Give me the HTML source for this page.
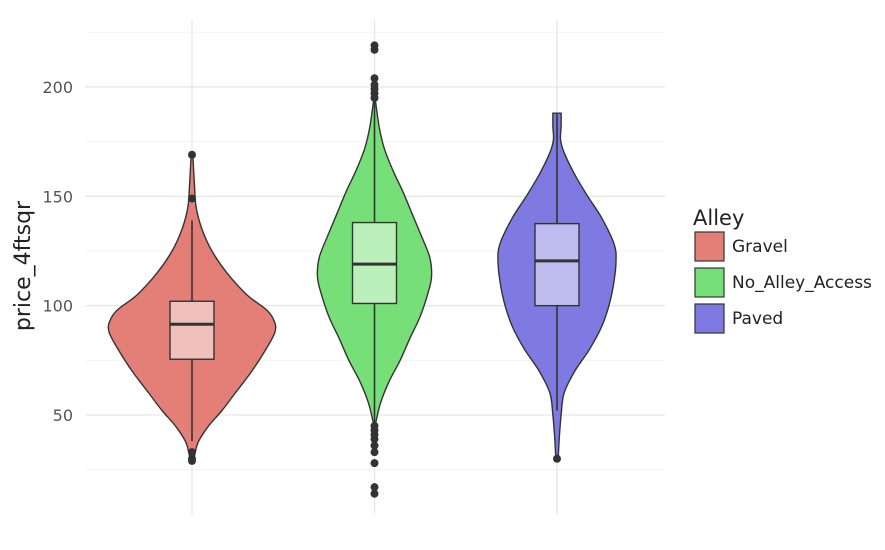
<!DOCTYPE html>
<html><head><meta charset="utf-8"><style>
body{margin:0;background:#fff;font-family:"DejaVu Sans","Liberation Sans",sans-serif}
</style></head><body>
<svg id="c" width="885" height="546" xmlns="http://www.w3.org/2000/svg" font-family="DejaVu Sans, Liberation Sans, sans-serif"></svg>
<script>
const categories=["Gravel","No_Alley_Access","Paved"];
const colors=["#e47f78","#77df77","#7f79e2"];
const boxColors=["#f0c0bd","#bbf0bb","#bfbcf0"];
const yTicks=[50,100,150,200];
const minorTicks=[25,75,125,175,225];
const densGravel=[[29,0.02],[33,0.04],[38,0.08],[45,0.2],[52,0.36],[60,0.52],[70,0.72],[80,0.89],[88,1.0],[93,0.99],[98,0.9],[105,0.66],[115,0.42],[125,0.24],[135,0.12],[145,0.05],[155,0.03],[169,0.01]];
const densNoAlley=[[45,0.01],[55,0.1],[65,0.25],[75,0.45],[85,0.62],[95,0.8],[105,0.93],[113,1.0],[122,0.97],[132,0.82],[142,0.66],[152,0.5],[162,0.32],[172,0.17],[182,0.08],[195,0.01]];
const densPaved=[[30,0.02],[40,0.04],[50,0.07],[60,0.12],[70,0.3],[80,0.55],[90,0.75],[100,0.88],[110,0.96],[120,1.0],[128,0.97],[140,0.76],[150,0.52],[160,0.3],[170,0.12],[176,0.06],[182,0.07],[188,0.07]];
const densities=[densGravel,densNoAlley,densPaved];
const maxHalf=[83,57,59];
const q1=[75.5,101,100],med=[91.5,119,120.5],q3=[102,138,137.5];
const whLo=[38,45,52],whHi=[139,195,188];
const outGravel=[29,30,33,149,169];
const outNoAlley=[14,17,28,33,36,39,41,43,45,195,197,199,201,204,217,219];
const outPaved=[30];
const outliers=[outGravel,outNoAlley,outPaved];

const svg=document.getElementById('c');
const NS="http://www.w3.org/2000/svg";
const X0=85,X1=665;
const xPos=i=>192+i*182.5;
const y=v=>415-(v-50)*2.187;
function mk(t,a,p){const e=document.createElementNS(NS,t);for(const k in a)e.setAttribute(k,a[k]);(p||svg).appendChild(e);return e;}

minorTicks.forEach(v=>{const l=mk('line',{x1:X0,x2:X1,y1:y(v),y2:y(v),stroke:'#f3f3f3','stroke-width':1});

});
yTicks.forEach(v=>{const l=mk('line',{x1:X0,x2:X1,y1:y(v),y2:y(v),stroke:'#e6e6e6','stroke-width':1.3});


const t=mk('text',{x:73,y:y(v)+6,'text-anchor':'end','font-size':16,fill:'#555'});t.textContent=v;

});
categories.forEach((c,i)=>{const l=mk('line',{x1:xPos(i),x2:xPos(i),y1:20,y2:515,stroke:'#e6e6e6','stroke-width':1.3});

});

function smooth(pts){let d='';for(let i=0;i<pts.length-1;i++){const p0=pts[Math.max(0,i-1)],p1=pts[i],p2=pts[i+1],p3=pts[Math.min(pts.length-1,i+2)];
const c1=[p1[0]+(p2[0]-p0[0])/6,p1[1]+(p2[1]-p0[1])/6],c2=[p2[0]-(p3[0]-p1[0])/6,p2[1]-(p3[1]-p1[1])/6];
d+=`C${c1[0]},${c1[1]} ${c2[0]},${c2[1]} ${p2[0]},${p2[1]}`;}return d;}

categories.forEach((c,i)=>{
  const cx=xPos(i),dn=densities[i],m=maxHalf[i];
  const right=dn.map(p=>[cx+p[1]*m,y(p[0])]);
  const left=dn.slice().reverse().map(p=>[cx-p[1]*m,y(p[0])]);
  const d=`M${right[0][0]},${right[0][1]}`+smooth(right)+`L${left[0][0]},${left[0][1]}`+smooth(left)+'Z';
  const v=mk('path',{d,fill:colors[i],stroke:'#333','stroke-width':1.4});
  
  
  const w=mk('line',{x1:cx,x2:cx,y1:y(whLo[i]),y2:y(whHi[i]),stroke:'#333','stroke-width':1.6});
  
  
  const b=mk('rect',{x:cx-22,y:y(q3[i]),width:44,height:y(q1[i])-y(q3[i]),fill:boxColors[i],stroke:'#333','stroke-width':1.4});
  
  
  const ml=mk('line',{x1:cx-22,x2:cx+22,y1:y(med[i]),y2:y(med[i]),stroke:'#333','stroke-width':3});
  
  
  outliers[i].forEach(o=>{const p=mk('circle',{cx,cy:y(o),r:4,fill:'#333'});
  
  });
});

const yt=mk('text',{x:0,y:0,transform:'translate(30,266) rotate(-90)','text-anchor':'middle','font-size':22,fill:'#222'});yt.textContent='price_4ftsqr';


const lt=mk('text',{x:693,y:225,'font-size':21,fill:'#222'});lt.textContent='Alley';


categories.forEach((c,i)=>{const g=mk('g',{});


mk('rect',{x:695,y:232+i*36,width:29,height:29,fill:colors[i],stroke:'#333','stroke-width':1.2},g);
const t=mk('text',{x:732,y:252+i*36,'font-size':17,fill:'#222'},g);t.textContent=c;});
</script>
</body></html>
